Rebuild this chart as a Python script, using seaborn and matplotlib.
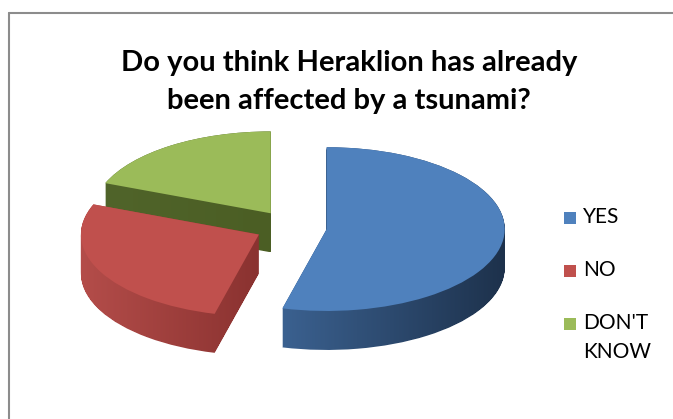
import numpy as np
import matplotlib.pyplot as plt
import matplotlib.colors as mcolors
from matplotlib.path import Path
from matplotlib.lines import Line2D
from matplotlib.patches import Rectangle
import seaborn as sns

# survey answers, share of respondents (%)
answers = ["YES", "NO", "DON'T\nKNOW"]
shares = [54, 27, 19]
title_lines = ["Do you think Heraklion has already", "been affected by a tsunami?"]

top_colors = ["#4F81BD", "#C0504D", "#9BBB59"]
side_left = ["#3B6190", "#B44D4A", "#50642A"]
side_right = ["#1D314B", "#8A3230", "#4B5E24"]

sns.set_style("white")
plt.rcParams["font.family"] = ["Lato", "DejaVu Sans"]

W, H = 673, 419
fig = plt.figure(figsize=(W / 100, H / 100), dpi=100)
ax = fig.add_axes([0, 0, 1, 1])

# fake 3d: pie drawn in unsquashed units, y axis squashed afterwards
tilt = 0.46
radius = 178
center = (291, (H - 227) / tilt)
depth = 39 / tilt
n_layers = 40
explode = [36] * len(shares)
zbase = [3, 2, 1]  # blue in front, green at the back

pie_kw = dict(radius=radius, startangle=90, counterclock=False,
              explode=explode, wedgeprops=dict(linewidth=0))

# side walls: union of shifted copies of each slice
layer_paths = [[] for _ in shares]
for i in range(n_layers + 1):
    c = (center[0], center[1] - depth * i / n_layers)
    wedges, _ = ax.pie(shares, center=c, **pie_kw)
    for j, w in enumerate(wedges):
        layer_paths[j].append(w.get_patch_transform().transform_path(w.get_path()))
        w.remove()

grad = np.linspace(0, 1, 256)[None, :]
for j in range(len(shares)):
    wall = Path.make_compound_path(*layer_paths[j])
    v = wall.vertices
    cmap = mcolors.LinearSegmentedColormap.from_list("wall", [side_left[j], side_right[j]])
    im = ax.imshow(grad, cmap=cmap, aspect="auto", interpolation="bilinear",
                   extent=(v[:, 0].min(), v[:, 0].max(), v[:, 1].min(), v[:, 1].max()),
                   zorder=zbase[j])
    im.set_clip_path(wall, ax.transData)

# top faces
wedges, _ = ax.pie(shares, center=center, colors=top_colors, **pie_kw)
for j, w in enumerate(wedges):
    w.set_zorder(zbase[j] + 0.5)

ax.set_aspect("auto")
ax.set_xlim(0, W)
ax.set_ylim(0, H / tilt)
ax.axis("off")

# title
for k, line in enumerate(title_lines):
    fig.text(349 / W, 1 - (71 + 38 * k) / H, line, ha="center", va="baseline",
             fontsize=21, fontweight="bold", color="black")

# legend
for j, label in enumerate(answers):
    base = 223 + 53 * j
    fig.add_artist(Rectangle((564 / W, 1 - (base + 1) / H), 12 / W, 12 / H,
                             transform=fig.transFigure, facecolor=top_colors[j], lw=0))
    for k, part in enumerate(label.split("\n")):
        fig.text(583 / W, 1 - (base + 29 * k) / H, part, ha="left", va="baseline",
                 fontsize=15, color="black")

# chart area border (cut at the right and bottom)
border = "#8C8C8C"
fig.add_artist(Line2D([9 / W, 1], [1 - 13 / H, 1 - 13 / H], color=border, lw=1.5,
                      transform=fig.transFigure))
fig.add_artist(Line2D([9 / W, 9 / W], [0, 1 - 13 / H], color=border, lw=1.5,
                      transform=fig.transFigure))

fig.savefig("out.png", dpi=100)
